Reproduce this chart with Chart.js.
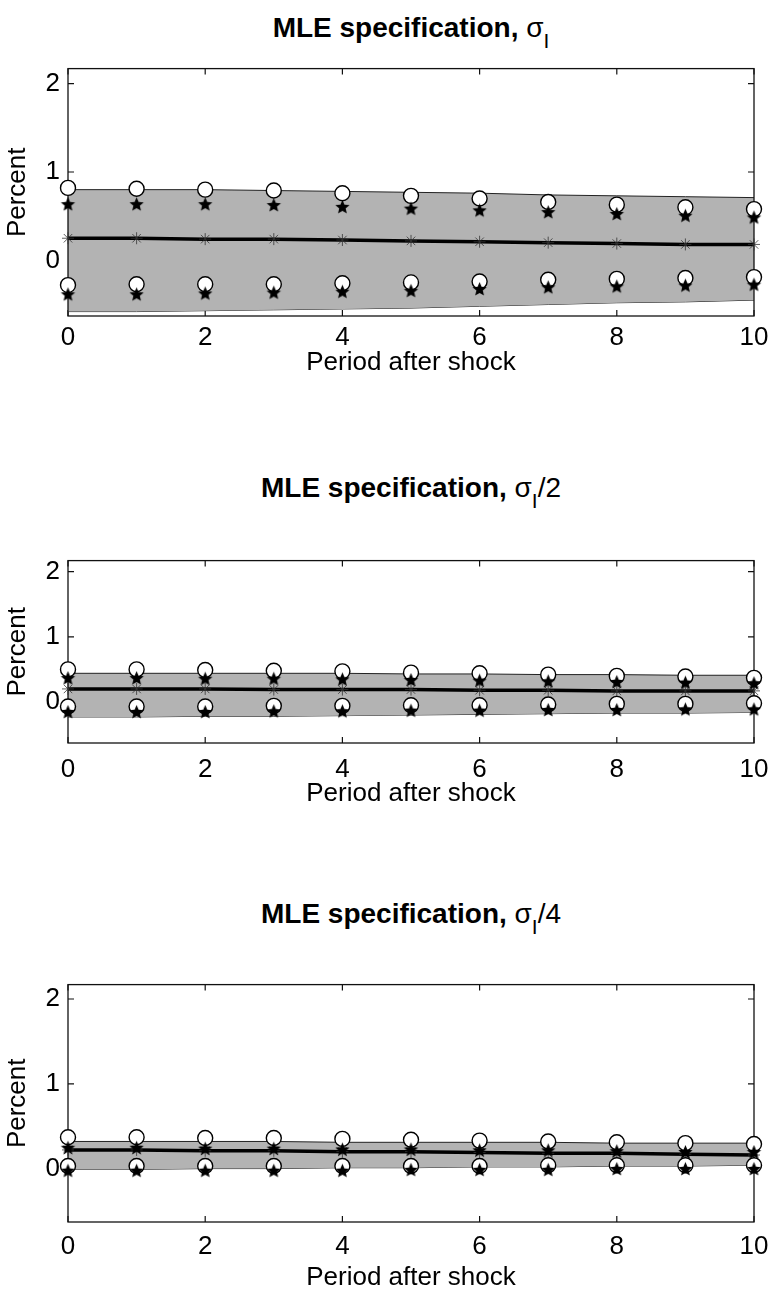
<!DOCTYPE html>
<html>
<head>
<meta charset="utf-8">
<script src="https://cdn.jsdelivr.net/npm/chart.js@4.4.1/dist/chart.umd.min.js"></script>
<style>
  body { margin: 0; background: #fff; width: 772px; height: 1291px; position: relative; overflow: hidden; }
  .ttl { position: absolute; left: 68px; width: 686px; line-height: 32px; text-align: center;
         font: bold 28px "Liberation Sans", Arial, sans-serif; color: #000; white-space: nowrap; }
  .ttl .g { font-weight: normal; }
  .ttl sub { font-size: 21px; vertical-align: -11px; line-height: 0; }
  .box { position: absolute; left: 0; width: 772px; }
</style>
</head>
<body>
<div class="ttl" style="top:12px">MLE specification, <span class="g">σ<sub>I</sub></span></div>
<div class="ttl" style="top:472px">MLE specification, <span class="g">σ<sub>I</sub>/2</span></div>
<div class="ttl" style="top:898px">MLE specification, <span class="g">σ<sub>I</sub>/4</span></div>

<div class="box" style="top:45px;height:335px"><canvas id="p1"></canvas></div>
<div class="box" style="top:537px;height:274px"><canvas id="p2"></canvas></div>
<div class="box" style="top:961px;height:334px"><canvas id="p3"></canvas></div>

<script>
// periods after the shock and axis ticks
const periods = [0, 1, 2, 3, 4, 5, 6, 7, 8, 9, 10];
const xTicks = [0, 2, 4, 6, 8, 10];
const yTicks = [0, 1, 2];
const yMin = -0.63, yMax = 2.17;

// sigma_I
const p1BandHi = [0.80, 0.80, 0.80, 0.79, 0.78, 0.77, 0.76, 0.74, 0.73, 0.72, 0.71];
const p1BandLo = [-0.58, -0.58, -0.57, -0.56, -0.55, -0.54, -0.52, -0.50, -0.48, -0.47, -0.45];
const p1Mean   = [0.25, 0.25, 0.24, 0.24, 0.23, 0.22, 0.21, 0.20, 0.19, 0.18, 0.18];
const p1CircHi = [0.82, 0.81, 0.80, 0.79, 0.76, 0.73, 0.70, 0.66, 0.63, 0.60, 0.58];
const p1StarHi = [0.63, 0.63, 0.63, 0.62, 0.60, 0.58, 0.56, 0.54, 0.52, 0.50, 0.48];
const p1CircLo = [-0.28, -0.27, -0.27, -0.27, -0.26, -0.25, -0.24, -0.22, -0.21, -0.20, -0.19];
const p1StarLo = [-0.39, -0.39, -0.38, -0.37, -0.36, -0.35, -0.33, -0.31, -0.30, -0.29, -0.28];

// sigma_I / 2
const p2BandHi = [0.44, 0.44, 0.44, 0.44, 0.44, 0.43, 0.43, 0.42, 0.42, 0.41, 0.41];
const p2BandLo = [-0.23, -0.23, -0.22, -0.22, -0.21, -0.20, -0.19, -0.18, -0.17, -0.17, -0.16];
const p2Mean   = [0.20, 0.20, 0.20, 0.19, 0.19, 0.19, 0.18, 0.18, 0.17, 0.17, 0.17];
const p2CircHi = [0.50, 0.50, 0.49, 0.48, 0.47, 0.45, 0.44, 0.42, 0.40, 0.39, 0.37];
const p2StarHi = [0.36, 0.36, 0.35, 0.35, 0.34, 0.33, 0.32, 0.31, 0.30, 0.29, 0.28];
const p2CircLo = [-0.07, -0.07, -0.07, -0.06, -0.06, -0.05, -0.05, -0.04, -0.03, -0.03, -0.02];
const p2StarLo = [-0.16, -0.16, -0.16, -0.15, -0.15, -0.14, -0.14, -0.13, -0.13, -0.12, -0.12];

// sigma_I / 4
const p3BandHi = [0.32, 0.32, 0.32, 0.32, 0.31, 0.31, 0.31, 0.31, 0.30, 0.30, 0.30];
const p3BandLo = [-0.01, -0.01, 0.00, 0.00, 0.01, 0.01, 0.02, 0.02, 0.03, 0.03, 0.04];
const p3Mean   = [0.22, 0.22, 0.21, 0.21, 0.20, 0.20, 0.19, 0.18, 0.18, 0.17, 0.16];
const p3CircHi = [0.37, 0.37, 0.36, 0.36, 0.35, 0.34, 0.33, 0.32, 0.31, 0.30, 0.29];
const p3StarHi = [0.24, 0.24, 0.23, 0.23, 0.22, 0.22, 0.21, 0.21, 0.20, 0.19, 0.19];
const p3CircLo = [0.03, 0.03, 0.03, 0.03, 0.03, 0.03, 0.03, 0.04, 0.04, 0.04, 0.04];
const p3StarLo = [-0.03, -0.03, -0.03, -0.03, -0.03, -0.02, -0.02, -0.02, -0.01, -0.01, -0.01];

const FONT = '"Liberation Sans", Arial, sans-serif';
Chart.defaults.font.family = FONT;
Chart.defaults.color = '#000';

// filled five-point star used as a marker
function pentagram(r) {
  const c = document.createElement('canvas');
  const s = Math.ceil(r * 2 + 2);
  c.width = c.height = s;
  const g = c.getContext('2d');
  g.translate(s / 2, s / 2);
  g.beginPath();
  for (let i = 0; i < 10; i++) {
    const rr = i % 2 ? r * 0.45 : r;
    const a = -Math.PI / 2 + i * Math.PI / 5;
    g.lineTo(rr * Math.cos(a), rr * Math.sin(a));
  }
  g.closePath();
  g.fillStyle = '#000';
  g.fill();
  return c;
}
const starMark = pentagram(7.5);

const pts = ys => ys.map((v, i) => ({ x: periods[i], y: v }));

// box around the axes with inward ticks on all four sides
const boxPlugin = {
  id: 'box',
  beforeDatasetsDraw(chart) {
    const { ctx, chartArea: a, scales: { x, y } } = chart;
    ctx.save();
    ctx.strokeStyle = '#111';
    ctx.lineWidth = 1.2;
    ctx.beginPath();
    xTicks.forEach(v => {
      const px = x.getPixelForValue(v);
      ctx.moveTo(px, a.bottom); ctx.lineTo(px, a.bottom - 6);
      ctx.moveTo(px, a.top); ctx.lineTo(px, a.top + 6);
    });
    yTicks.forEach(v => {
      const py = y.getPixelForValue(v);
      ctx.moveTo(a.left, py); ctx.lineTo(a.left + 6, py);
      ctx.moveTo(a.right, py); ctx.lineTo(a.right - 6, py);
    });
    ctx.stroke();
    ctx.restore();
  },
  afterDatasetDraw(chart, args) {
    if (args.index !== 0) return;
    const { ctx, chartArea: a } = chart;
    ctx.save();
    ctx.strokeStyle = '#111';
    ctx.lineWidth = 1.3;
    ctx.strokeRect(a.left, a.top, a.right - a.left, a.bottom - a.top);
    ctx.restore();
  }
};

// labelPad / axisH: gap between the box and the x labels / x title
function panel(id, labelPad, axisH, bandHi, bandLo, mean, circHi, circLo, starHi, starLo) {
  const circle = d => ({ data: pts(d), showLine: false, pointStyle: 'circle', pointRadius: 7.5,
    pointBorderWidth: 1.4, pointBorderColor: '#000', pointBackgroundColor: '#fff', order: 2, clip: false });
  const star = d => ({ data: pts(d), showLine: false, pointStyle: starMark, pointRadius: 7,
    order: 1, clip: false });
  new Chart(document.getElementById(id), {
    type: 'line',
    data: {
      datasets: [
        { data: pts(bandHi), borderColor: '#222', borderWidth: 1, backgroundColor: '#b3b3b3',
          fill: '+1', pointRadius: 0, order: 5, clip: false },
        { data: pts(bandLo), borderColor: '#222', borderWidth: 1, fill: false,
          pointRadius: 0, order: 6, clip: false },
        { data: pts(mean), borderColor: '#000', borderWidth: 3.5, fill: false, pointStyle: 'star',
          pointRadius: 6, pointBorderWidth: 0.8, pointBorderColor: '#333', order: 3, clip: false },
        circle(circHi), circle(circLo), star(starHi), star(starLo)
      ]
    },
    options: {
      responsive: true,
      maintainAspectRatio: false,
      animation: false,
      events: [],
      layout: { padding: { top: 20, right: 18, left: 0, bottom: 0 } },
      elements: { line: { tension: 0 } },
      plugins: { legend: { display: false }, tooltip: { enabled: false } },
      scales: {
        x: {
          type: 'linear', min: 0, max: 10,
          grid: { display: false, drawTicks: false },
          border: { display: false },
          afterBuildTicks: s => { s.ticks = xTicks.map(v => ({ value: v })); },
          afterFit: s => { s.height = axisH; s.paddingLeft = 0; s.paddingRight = 0; },
          ticks: { font: { size: 26 }, padding: labelPad, maxRotation: 0 },
          title: { display: true, text: 'Period after shock', font: { size: 26 }, padding: { top: 0, bottom: 2 } }
        },
        y: {
          min: yMin, max: yMax,
          grid: { display: false, drawTicks: false },
          border: { display: false },
          afterBuildTicks: s => { s.ticks = yTicks.map(v => ({ value: v })); },
          afterFit: s => { s.width = 68; },
          ticks: { font: { size: 26 }, padding: 8 },
          title: { display: true, text: 'Percent', font: { size: 26 }, padding: { top: 2, bottom: 0 } }
        }
      }
    },
    plugins: [boxPlugin]
  });
}

panel('p1', 6, 64, p1BandHi, p1BandLo, p1Mean, p1CircHi, p1CircLo, p1StarHi, p1StarLo);
panel('p2', 11, 68, p2BandHi, p2BandLo, p2Mean, p2CircHi, p2CircLo, p2StarHi, p2StarLo);
panel('p3', 9, 73, p3BandHi, p3BandLo, p3Mean, p3CircHi, p3CircLo, p3StarHi, p3StarLo);
</script>
</body>
</html>
